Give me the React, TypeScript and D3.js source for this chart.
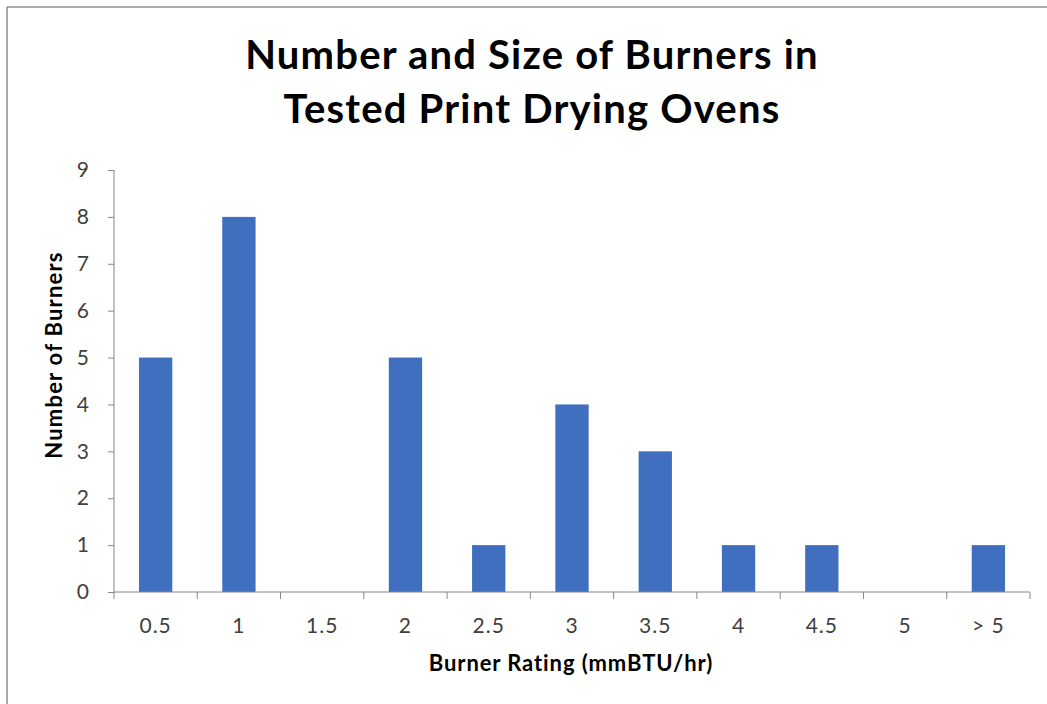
import { useEffect, useRef } from "react";
import * as d3 from "d3";

const categories = ["0.5", "1", "1.5", "2", "2.5", "3", "3.5", "4", "4.5", "5", "> 5"];
const counts = [5, 8, 0, 5, 1, 4, 3, 1, 1, 0, 1];
const yTicks = [0, 1, 2, 3, 4, 5, 6, 7, 8, 9];
const titleLines = ["Number and Size of Burners in", "Tested Print Drying Ovens"];

const FONT = "Lato, 'Open Sans', sans-serif";
const BAR = "#3F6FBE";
const AXIS = "#868686";

export default function App() {
  const svgRef = useRef<SVGSVGElement>(null);
  const width = 1047;
  const height = 704;

  useEffect(() => {
    if (!svgRef.current) return;
    const svg = d3.select(svgRef.current);
    svg.selectAll("*").remove();

    const margin = { top: 170, right: 17, bottom: 112, left: 114 };
    const w = width - margin.left - margin.right;
    const h = height - margin.top - margin.bottom;

    // chart frame (only top/left visible in the reference crop)
    svg.append("rect").attr("width", width).attr("height", height).attr("fill", "#fff");
    svg.append("line").attr("x1", 7).attr("y1", 7).attr("x2", width).attr("y2", 7)
      .attr("stroke", "#8c8c8c").attr("stroke-width", 1.5);
    svg.append("line").attr("x1", 7).attr("y1", 7).attr("x2", 7).attr("y2", height)
      .attr("stroke", "#8c8c8c").attr("stroke-width", 1.5);

    // title
    titleLines.forEach((t, i) => {
      svg.append("text")
        .attr("x", 532)
        .attr("y", 69 + i * 54)
        .attr("text-anchor", "middle")
        .attr("font-family", FONT)
        .attr("font-weight", "bold")
        .attr("font-size", "40px")
        .attr("letter-spacing", "1.2px")
        .attr("fill", "#000")
        .text(t);
    });

    const g = svg.append("g").attr("transform", `translate(${margin.left},${margin.top})`);

    const x = d3.scaleBand<string>().domain(categories).range([0, w]).paddingInner(0.6).paddingOuter(0.3);
    const xOuter = d3.scaleBand<string>().domain(categories).range([0, w]);
    const y = d3.scaleLinear().domain([0, 9]).range([h, 0]);

    // bars
    g.append("g")
      .selectAll("rect")
      .data(counts)
      .join("rect")
      .attr("x", (_, i) => x(categories[i]) ?? 0)
      .attr("y", (d) => y(d))
      .attr("width", x.bandwidth())
      .attr("height", (d) => h - y(d))
      .attr("fill", BAR);

    // y axis
    const yAxis = g.append("g").call(
      d3.axisLeft(y).tickValues(yTicks).tickSize(6).tickPadding(19).tickFormat(d3.format("d"))
    );
    yAxis.select(".domain").attr("stroke", AXIS).attr("d", `M0,0V${h}`);
    yAxis.selectAll("line").attr("stroke", AXIS);
    yAxis.selectAll("text")
      .attr("font-family", FONT)
      .attr("font-size", "21px")
      .attr("fill", "#404040");

    // x axis: ticks at band boundaries
    const xAxisG = g.append("g").attr("transform", `translate(0,${h})`);
    xAxisG.append("line").attr("x1", 0).attr("x2", w).attr("stroke", AXIS);
    const bounds = [...categories.map((c) => xOuter(c) ?? 0), w];
    xAxisG.selectAll("line.tick")
      .data(bounds)
      .join("line")
      .attr("class", "tick")
      .attr("x1", (d) => d)
      .attr("x2", (d) => d)
      .attr("y1", 0)
      .attr("y2", 7)
      .attr("stroke", AXIS);
    xAxisG.selectAll("text")
      .data(categories)
      .join("text")
      .attr("x", (d) => (xOuter(d) ?? 0) + xOuter.bandwidth() / 2)
      .attr("y", 41)
      .attr("text-anchor", "middle")
      .attr("font-family", FONT)
      .attr("font-size", "21px")
      .attr("letter-spacing", "1px")
      .attr("fill", "#404040")
      .text((d) => d);

    // axis titles
    g.append("text")
      .attr("x", 571 - margin.left)
      .attr("y", h + 79)
      .attr("text-anchor", "middle")
      .attr("font-family", FONT)
      .attr("font-weight", "bold")
      .attr("font-size", "22px")
      .attr("letter-spacing", "0.9px")
      .attr("fill", "#000")
      .text("Burner Rating (mmBTU/hr)");

    g.append("text")
      .attr("transform", `translate(${62 - margin.left},${355 - margin.top}) rotate(-90)`)
      .attr("text-anchor", "middle")
      .attr("font-family", FONT)
      .attr("font-weight", "bold")
      .attr("font-size", "22px")
      .attr("letter-spacing", "1.2px")
      .attr("fill", "#000")
      .text("Number of Burners");
  }, []);

  return (
    <svg
      ref={svgRef}
      width={width}
      height={height}
      style={{ position: "absolute", left: 0, top: 0, display: "block" }}
    />
  );
}
